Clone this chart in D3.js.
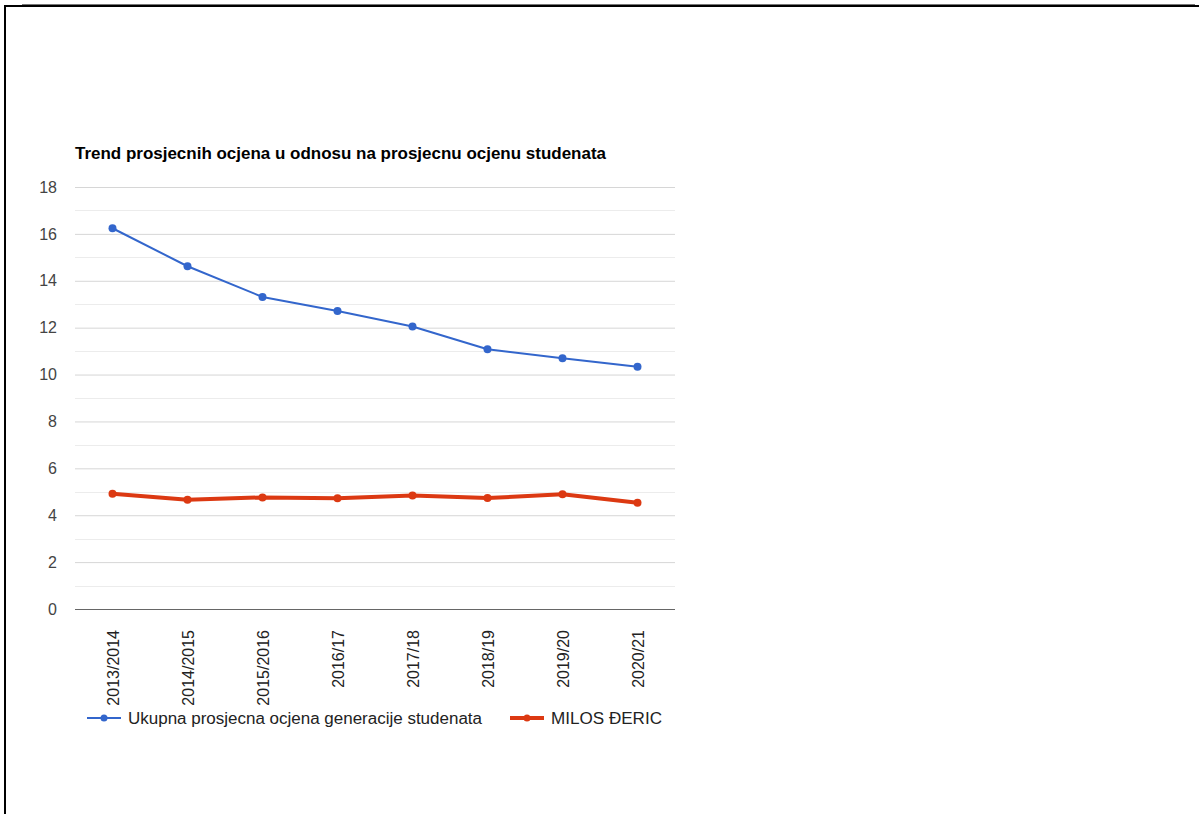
<!DOCTYPE html>
<html>
<head>
<meta charset="utf-8">
<script src="https://cdn.jsdelivr.net/npm/d3@7"></script>
<style>
  html, body { margin: 0; padding: 0; background: #fff; }
  svg { display: block; font-family: Arial, "Liberation Sans", sans-serif; }
</style>
</head>
<body>
<svg id="chart" width="1199" height="814"></svg>
<script>
// podaci sa grafikona
const years = ["2013/2014", "2014/2015", "2015/2016", "2016/17", "2017/18", "2018/19", "2019/20", "2020/21"];
const generationAvg = [16.24, 14.62, 13.31, 12.71, 12.05, 11.08, 10.70, 10.33];
const studentAvg = [4.92, 4.66, 4.76, 4.72, 4.84, 4.73, 4.89, 4.53];
const yTicks = [0, 2, 4, 6, 8, 10, 12, 14, 16, 18];
const seriesNames = ["Ukupna prosjecna ocjena generacije studenata", "MILOS ĐERIC"];

const svg = d3.select("#chart");

// okvir stranice
svg.append("line").attr("x1", 22).attr("x2", 1195).attr("y1", 4.5).attr("y2", 4.5)
  .attr("stroke", "#777").attr("stroke-width", 1);
svg.append("path").attr("d", "M5,814 V6 H1199")
  .attr("fill", "none").attr("stroke", "#000").attr("stroke-width", 2);

const plotLeft = 75, plotRight = 675, plotTop = 187, plotBottom = 609;

const x = d3.scaleBand().domain(years).range([plotLeft, plotRight]);
const y = d3.scaleLinear().domain([0, 18]).range([plotBottom, plotTop]);
const cx = (d) => x(d) + x.bandwidth() / 2;

svg.append("text")
  .attr("x", plotLeft).attr("y", 159)
  .attr("font-size", 16).attr("font-weight", "bold").attr("fill", "#000")
  .attr("textLength", 531).attr("lengthAdjust", "spacingAndGlyphs")
  .text("Trend prosjecnih ocjena u odnosu na prosjecnu ocjenu studenata");

// pomoćne linije (svaka 1)
svg.append("g").selectAll("line")
  .data(d3.range(1, 18, 2))
  .join("line")
  .attr("x1", plotLeft).attr("x2", plotRight)
  .attr("y1", (d) => Math.round(y(d)) + 0.5).attr("y2", (d) => Math.round(y(d)) + 0.5)
  .attr("stroke", "#ececec");

// glavne linije + y osa
const yAxis = svg.append("g")
  .attr("transform", `translate(${plotLeft},0)`)
  .call(d3.axisLeft(y).tickValues(yTicks).tickSize(-(plotRight - plotLeft)).tickPadding(18));
yAxis.select(".domain").remove();
yAxis.selectAll(".tick line").attr("stroke", "#d6d6d6");
yAxis.selectAll(".tick text")
  .attr("font-size", 16).attr("fill", "#444").attr("font-family", "Arial, 'Liberation Sans', sans-serif");

svg.append("line")
  .attr("x1", plotLeft).attr("x2", plotRight)
  .attr("y1", y(0) + 0.5).attr("y2", y(0) + 0.5)
  .attr("stroke", "#666").attr("stroke-width", 1.2);

// x oznake (rotirane)
svg.append("g").selectAll("text")
  .data(years)
  .join("text")
  .attr("transform", (d) => `translate(${cx(d) + 6},630) rotate(-90)`)
  .attr("text-anchor", "end")
  .attr("font-size", 16).attr("fill", "#222")
  .text((d) => d);

const series = [
  { name: seriesNames[0], values: generationAvg, color: "#3366cc", width: 2, r: 4 },
  { name: seriesNames[1], values: studentAvg, color: "#dc3912", width: 4, r: 4 }
];

const line = d3.line().x((d, i) => cx(years[i])).y((d) => y(d));

series.forEach((s) => {
  svg.append("path")
    .datum(s.values)
    .attr("d", line)
    .attr("fill", "none")
    .attr("stroke", s.color)
    .attr("stroke-width", s.width)
    .attr("stroke-linejoin", "round");
  svg.append("g").selectAll("circle")
    .data(s.values)
    .join("circle")
    .attr("cx", (d, i) => cx(years[i]))
    .attr("cy", (d) => y(d))
    .attr("r", s.r)
    .attr("fill", s.color);
});

// legenda
const legendPos = [87, 510];
const legendWidths = [354, 111];
series.forEach((s, i) => {
  const g = svg.append("g").attr("transform", `translate(${legendPos[i]},718)`);
  g.append("line").attr("x1", 0).attr("x2", 34).attr("y1", 0).attr("y2", 0)
    .attr("stroke", s.color).attr("stroke-width", s.width);
  g.append("circle").attr("cx", 17).attr("cy", 0).attr("r", 3.5).attr("fill", s.color);
  g.append("text").attr("x", 41).attr("y", 6)
    .attr("font-size", 16).attr("fill", "#222")
    .attr("textLength", legendWidths[i]).attr("lengthAdjust", "spacingAndGlyphs")
    .text(s.name);
});
</script>
</body>
</html>
